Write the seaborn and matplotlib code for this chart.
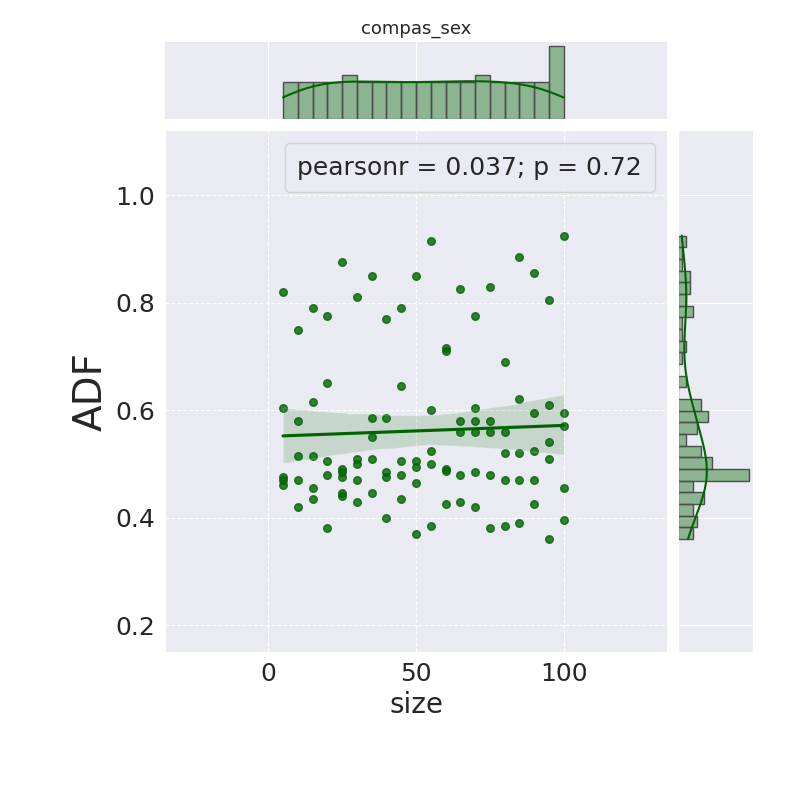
import seaborn as sns
import matplotlib.pyplot as plt
import pandas as pd

sizes = [5, 10, 15, 20, 25, 30, 35, 40, 45, 50, 55, 60, 65, 70, 75, 80, 85, 90, 95, 100]
adf_by_size = [
    [0.82, 0.605, 0.475, 0.47, 0.46],
    [0.75, 0.58, 0.515, 0.47, 0.42],
    [0.79, 0.615, 0.515, 0.455, 0.435],
    [0.775, 0.65, 0.505, 0.48, 0.38],
    [0.875, 0.49, 0.485, 0.475, 0.44, 0.445],
    [0.81, 0.51, 0.50, 0.47, 0.43],
    [0.85, 0.585, 0.55, 0.51, 0.445],
    [0.77, 0.585, 0.485, 0.475, 0.40],
    [0.79, 0.645, 0.505, 0.48, 0.435],
    [0.85, 0.505, 0.495, 0.465, 0.37],
    [0.915, 0.60, 0.525, 0.50, 0.385],
    [0.715, 0.71, 0.49, 0.487, 0.425],
    [0.825, 0.58, 0.56, 0.48, 0.43],
    [0.775, 0.605, 0.58, 0.56, 0.485, 0.42],
    [0.83, 0.58, 0.56, 0.48, 0.38],
    [0.69, 0.56, 0.52, 0.47, 0.385],
    [0.885, 0.62, 0.52, 0.47, 0.39],
    [0.855, 0.595, 0.525, 0.47, 0.425],
    [0.805, 0.61, 0.54, 0.51, 0.36],
    [0.925, 0.595, 0.57, 0.455, 0.395],
]

rows = [(s, v) for s, vals in zip(sizes, adf_by_size) for v in vals]
df = pd.DataFrame(rows, columns=['size', 'ADF'])

sns.set_style('darkgrid')
color = 'darkgreen'

g = sns.JointGrid(data=df, x='size', y='ADF', height=8, ratio=6, space=0.15)
sns.regplot(data=df, x='size', y='ADF', ax=g.ax_joint, color=color,
            scatter_kws=dict(s=30))
sns.histplot(data=df, x='size', ax=g.ax_marg_x, bins=19, kde=True, color=color,
             edgecolor='0.3', alpha=0.4)
sns.histplot(data=df, y='ADF', ax=g.ax_marg_y, bins=26, kde=True, color=color,
             edgecolor='0.3', alpha=0.4)
g.ax_marg_x.lines[0].set_color(color)
g.ax_marg_y.lines[0].set_color(color)

ax = g.ax_joint
ax.set_xlim(-35, 135)
ax.set_ylim(0.15, 1.12)
ax.set_xticks([0, 50, 100])
ax.set_yticks([0.2, 0.4, 0.6, 0.8, 1.0])
ax.grid(True, linestyle='--', color='white')
ax.tick_params(labelsize=18)
ax.set_xlabel('size', fontsize=20)
ax.set_ylabel('ADF', fontsize=28)
h, = ax.plot([], [], linestyle='none')
ax.legend([h], ['pearsonr = 0.037; p = 0.72'], loc='upper right', fontsize=18,
          handlelength=0, handletextpad=0, borderpad=0.5)

g.ax_marg_x.set_title('compas_sex', fontsize=13)
plt.subplots_adjust(left=0.206, right=0.941, top=0.9475, bottom=0.185)
plt.savefig('out.png', dpi=100)
